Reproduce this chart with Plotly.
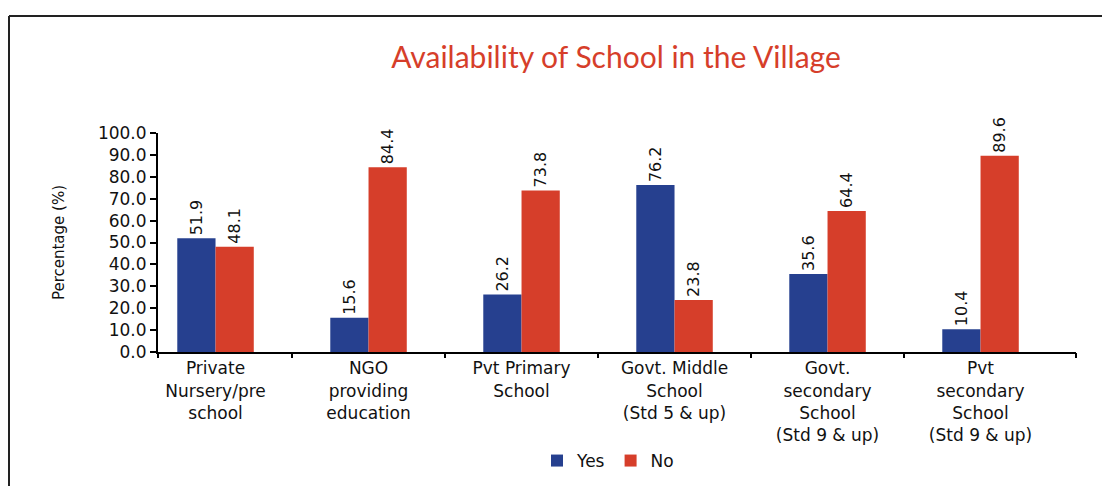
import plotly.graph_objects as go

categories = [
    "Private<br>Nursery/pre<br>school",
    "NGO<br>providing<br>education",
    "Pvt Primary<br>School",
    "Govt. Middle<br>School<br>(Std 5 & up)",
    "Govt.<br>secondary<br>School<br>(Std 9 & up)",
    "Pvt<br>secondary<br>School<br>(Std 9 & up)",
]
yes_vals = [51.9, 15.6, 26.2, 76.2, 35.6, 10.4]
no_vals = [48.1, 84.4, 73.8, 23.8, 64.4, 89.6]
y_ticks = [0, 10, 20, 30, 40, 50, 60, 70, 80, 90, 100]

BLUE = "#26408F"
RED = "#D63E2A"
FONT = "DejaVu Sans"

xs = list(range(len(categories)))

fig = go.Figure()
fig.add_trace(go.Bar(
    x=xs, y=yes_vals, name="Yes", marker=dict(color=BLUE, line=dict(width=0)),
    text=[f"{v:.1f}" for v in yes_vals], textposition="outside",
    textangle=-90, textfont=dict(family=FONT, size=16, color="#111"),
    cliponaxis=False, constraintext="none",
))
fig.add_trace(go.Bar(
    x=xs, y=no_vals, name="No", marker=dict(color=RED, line=dict(width=0)),
    text=[f"{v:.1f}" for v in no_vals], textposition="outside",
    textangle=-90, textfont=dict(family=FONT, size=16, color="#111"),
    cliponaxis=False, constraintext="none",
))

L, R, T, B = 158, 26, 133, 134
W, H = 1102, 486
pw, ph = W - L - R, H - T - B
x0 = -0.376
x1 = 5.624

def px_to_paper_x(px):
    return (px - L) / pw

def py_to_paper_y(py):
    return (H - B - py) / ph

boundaries = [x0] + [i + 0.5 for i in xs[:-1]] + [x1]

fig.update_layout(
    width=W, height=H,
    margin=dict(l=L, r=R, t=T, b=B, autoexpand=False),
    paper_bgcolor="white", plot_bgcolor="white",
    barmode="group", bargap=0.5, bargroupgap=0,
    font=dict(family=FONT, color="#111"),
    title=dict(
        text="Availability of School in the Village",
        font=dict(family="Lato", size=30, color="#D63E2A"),
        x=px_to_paper_x(616), xref="paper", xanchor="center",
        y=1 - 57 / H, yref="container", yanchor="middle",
    ),
    xaxis=dict(
        range=[x0, x1], tickvals=xs, ticktext=categories,
        ticks="", showline=True, linecolor="black", linewidth=2,
        showgrid=False, zeroline=False, tickfont=dict(family=FONT, size=17, color="#111"),
        automargin=False,
    ),
    xaxis2=dict(
        range=[x0, x1], overlaying="x", side="bottom", anchor="y",
        tickvals=boundaries, ticks="outside", ticklen=5, tickwidth=2,
        tickcolor="black", showticklabels=False, showline=False,
        showgrid=False, zeroline=False,
    ),
    yaxis=dict(
        range=[0, 100], tickvals=y_ticks, ticktext=[f"{v:.1f}" for v in y_ticks],
        ticks="outside", ticklen=6, tickwidth=2, tickcolor="black",
        showline=True, linecolor="black", linewidth=2,
        showgrid=False, zeroline=False,
        tickfont=dict(family=FONT, size=17, color="#111"),
        title=dict(text="Percentage (%)", font=dict(family=FONT, size=15, color="#111"), standoff=30),
        automargin=False,
    ),
    legend=dict(
        orientation="h", x=px_to_paper_x(608), xanchor="center",
        y=py_to_paper_y(461), yanchor="middle",
        font=dict(family=FONT, size=17, color="#111"),
        bgcolor="rgba(0,0,0,0)",
    ),
    showlegend=True,
)

# invisible trace to activate xaxis2 boundary ticks
fig.add_trace(go.Scatter(x=[x0], y=[0], xaxis="x2", mode="markers",
                         marker=dict(opacity=0), showlegend=False, hoverinfo="skip"))

# frame lines
fig.add_shape(type="line", xref="paper", yref="paper",
              x0=px_to_paper_x(9), x1=px_to_paper_x(1110),
              y0=py_to_paper_y(16), y1=py_to_paper_y(16),
              line=dict(color="#222", width=2))
fig.add_shape(type="line", xref="paper", yref="paper",
              x0=px_to_paper_x(9), x1=px_to_paper_x(9),
              y0=py_to_paper_y(16), y1=py_to_paper_y(500),
              line=dict(color="#222", width=2))

fig.write_html("out.html")
